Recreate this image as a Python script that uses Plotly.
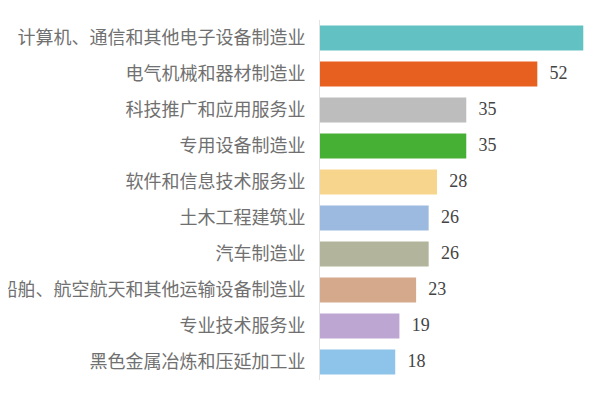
import plotly.graph_objects as go

# industries, top to bottom as in the picture
industries = [
  '计算机、通信和其他电子设备制造业',
  '电气机械和器材制造业',
  '科技推广和应用服务业',
  '专用设备制造业',
  '软件和信息技术服务业',
  '土木工程建筑业',
  '汽车制造业',
  '铁路、船舶、航空航天和其他运输设备制造业',
  '专业技术服务业',
  '黑色金属冶炼和压延加工业',
]
counts = [63, 52, 35, 35, 28, 26, 26, 23, 19, 18]
bar_colors = ['#62C1C2', '#E8601F', '#BDBDBD', '#46B035', '#F8D58C',
              '#9CBADF', '#B2B59B', '#D5AA8C', '#BEA6D3', '#8FC4EA']


def build_figure():
  '''Horizontal bar chart of counts per industry'''
  fig = go.Figure()
  fig.add_trace(go.Bar(
      x=counts, y=industries, orientation='h',
      marker=dict(color=bar_colors, line=dict(width=0)),
      hoverinfo='x+y', showlegend=False))
  # value labels: invisible markers push the text a bit away from the bar end
  fig.add_trace(go.Scatter(
      x=counts, y=industries, mode='markers+text',
      marker=dict(size=18, opacity=0), text=[str(v) for v in counts],
      textposition='middle right', cliponaxis=False,
      textfont=dict(family='Liberation Serif', size=18, color='#444444'),
      hoverinfo='skip', showlegend=False))

  # the page body has an 8px margin, so the figure is made smaller
  # (no scrollbars) and the margins are shifted by that amount
  fig.update_layout(
      width=592, height=374,
      margin=dict(l=312, r=0, t=12, b=2),
      paper_bgcolor='white', plot_bgcolor='white',
      bargap=0.3,
      font=dict(family='Noto Sans CJK SC', color='#707070'))
  fig.update_xaxes(range=[0, 67], visible=False)
  fig.update_yaxes(
      range=[len(industries) - 0.5, -0.5], automargin=False,
      showline=True, linecolor='#e2e2e2', linewidth=1,
      showgrid=False, ticks='', ticklabelstandoff=10,
      tickfont=dict(family='Noto Sans CJK SC', size=18, color='#707070'))
  return fig


def main():
  fig = build_figure()
  fig.write_html('out.html')


if __name__ == '__main__':
  main()
